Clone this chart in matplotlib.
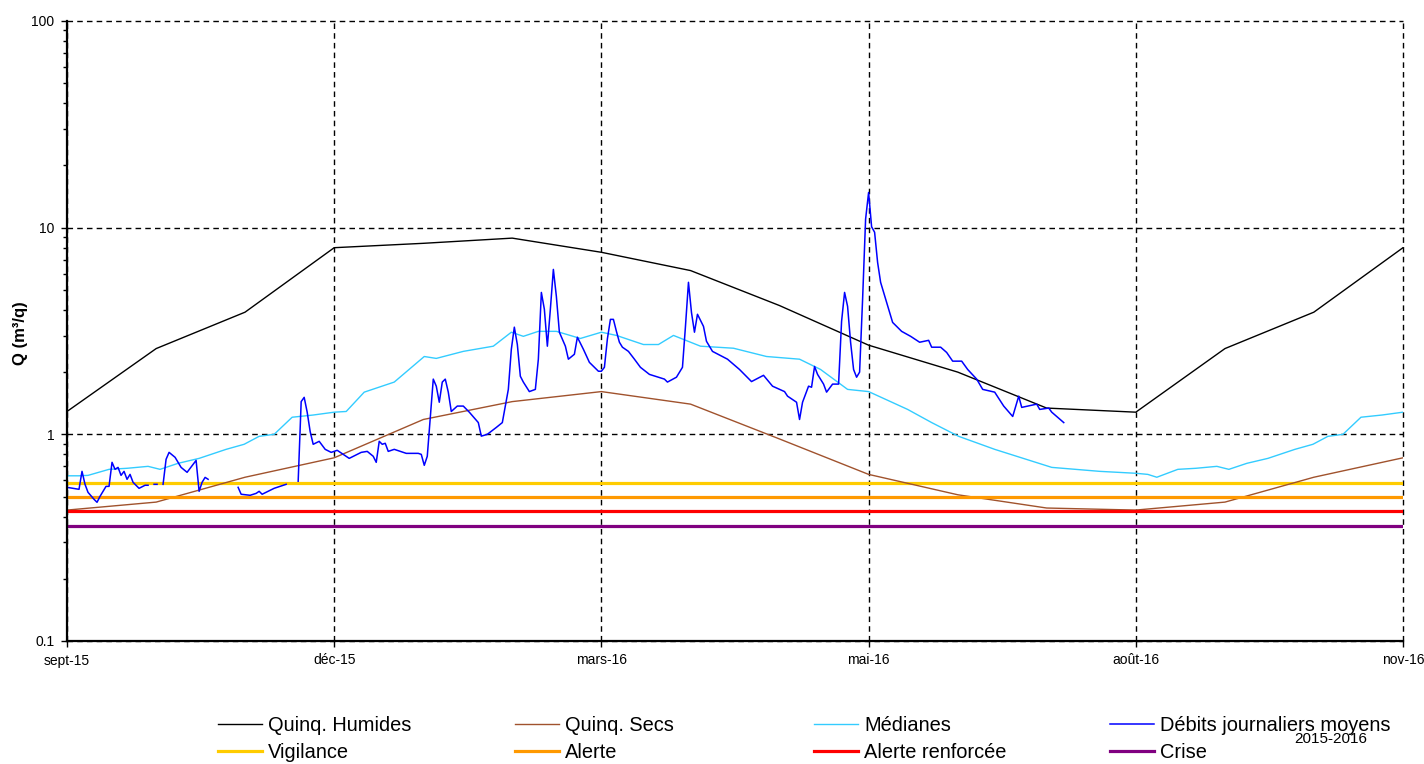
import numpy as np
import matplotlib.pyplot as plt
from matplotlib.ticker import FixedLocator, LogLocator, NullFormatter

plt.rcParams['font.family'] = ['Liberation Sans', 'DejaVu Sans']

# x axis: days since start of the chart (sept-15), 445 days shown
tick_days = [0, 89, 178, 267, 356, 445]
tick_labels = ["sept-15", "déc-15", "mars-16", "mai-16", "août-16", "nov-16"]

# monthly curves (one knot per month)
month_days = [0, 29.7, 59.3, 89, 118.7, 148.3, 178, 207.7, 237.3, 267,
              296.7, 326.3, 356, 385.7, 415.3, 445]
quinq_humides = [1.29, 2.6, 3.9, 8.0, 8.4, 8.9, 7.6, 6.2, 4.2, 2.7,
                 2.0, 1.34, 1.28, 2.6, 3.9, 8.0]
quinq_secs = [0.43, 0.47, 0.62, 0.77, 1.18, 1.44, 1.61, 1.40, 0.95, 0.64,
              0.51, 0.44, 0.43, 0.47, 0.62, 0.77]

med_days = [0, 4, 7, 14, 20, 27, 31, 37, 44, 53, 59, 64, 69, 75, 82, 89,
            93, 99, 109, 119, 123, 132, 142, 148, 152, 157, 163, 171, 178,
            183, 192, 197, 202, 211, 222, 233, 244, 251, 260, 267, 280, 288,
            297, 309, 328, 344, 356, 360, 363, 370, 376, 383, 387, 393, 400,
            409, 415, 420, 425, 431, 438, 445]
medianes = [0.63, 0.63, 0.633, 0.677, 0.685, 0.70, 0.677, 0.724, 0.765,
            0.846, 0.895, 0.978, 1.0, 1.21, 1.24, 1.28, 1.29, 1.60, 1.79,
            2.38, 2.33, 2.52, 2.67, 3.12, 2.98, 3.15, 3.15, 2.91, 3.12, 3.01,
            2.72, 2.72, 3.01, 2.67, 2.61, 2.38, 2.31, 2.06, 1.65, 1.61, 1.32,
            1.14, 0.978, 0.846, 0.692, 0.662, 0.648, 0.64, 0.62, 0.677, 0.685,
            0.70, 0.677, 0.724, 0.765, 0.846, 0.895, 0.978, 1.0, 1.21, 1.24,
            1.28]

# daily mean flows (nan = missing data)
deb_days = [0, 2, 4, 5, 6, 7, 9, 10, 11, 13, 14, 15, 16, 17, 18, 19, 20, 21,
            22, 24, 26, 27, 28, 29, 30, 31, 32, 33, 34, 36, 38, 40, 42, 43,
            44, 45, 46, 47, 48, 57, 58, 61, 63, 64, 65, 69, 71, 73, 74, 77,
            78, 79, 80, 81, 82, 84, 86, 88, 90, 92, 94, 98, 100, 102, 103,
            104, 105, 106, 107, 109, 113, 117, 118, 119, 120, 122, 123, 124,
            125, 126, 127, 128, 130, 132, 134, 137, 138, 140, 143, 145, 147,
            148, 149, 150, 151, 152, 154, 156, 157, 158, 159, 160, 161, 162,
            163, 164, 166, 167, 169, 170, 172, 174, 177, 178, 179, 180, 181,
            182, 183, 184, 185, 187, 189, 191, 194, 199, 200, 203, 205, 206,
            207, 208, 209, 210, 212, 213, 215, 220, 224, 228, 232, 235, 239,
            240, 243, 244, 245, 247, 248, 249, 250, 252, 253, 255, 257, 258,
            259, 260, 261, 262, 263, 264, 265, 266, 267, 268, 269, 270, 271,
            273, 275, 278, 281, 284, 287, 288, 291, 293, 295, 298, 300, 303,
            305, 309, 312, 315, 317, 318, 320, 323, 324, 327, 328, 332]
debits = [0.554, 0.548, 0.542, 0.662, 0.573, 0.524, 0.485, 0.469, 0.501,
          0.56, 0.56, 0.732, 0.677, 0.692, 0.633, 0.662, 0.606, 0.64, 0.586,
          0.548, 0.567, 0.567, np.nan, 0.573, 0.573, np.nan, 0.573, 0.757,
          0.818, 0.774, 0.692, 0.655, 0.716, 0.748, 0.53, 0.586, 0.619, 0.606,
          np.nan, 0.554, 0.513, 0.507, 0.518, 0.53, 0.513, 0.548, 0.56, 0.573,
          np.nan, 0.593, 1.44, 1.51, 1.28, 1.03, 0.895, 0.925, 0.846, 0.818,
          0.837, 0.80, 0.765, 0.818, 0.827, 0.783, 0.732, 0.925, 0.895, 0.905,
          0.827, 0.846, 0.809, 0.809, 0.80, 0.708, 0.783, 1.85, 1.71, 1.43,
          1.79, 1.85, 1.60, 1.29, 1.37, 1.37, 1.28, 1.14, 0.98, 1.0, 1.08,
          1.14, 1.65, 2.58, 3.30, 2.72, 1.91, 1.79, 1.61, 1.65, 2.31, 4.86,
          4.03, 2.67, 4.03, 6.28, 4.65, 3.12, 2.67, 2.31, 2.44, 2.95, 2.58,
          2.23, 2.02, 2.02, 2.11, 2.9, 3.6, 3.6, 3.15, 2.79, 2.64, 2.52, 2.31,
          2.11, 1.95, 1.85, 1.79, 1.89, 2.11, 3.33, 5.44, 3.89, 3.12, 3.81,
          3.33, 2.82, 2.52, 2.31, 2.06, 1.80, 1.93, 1.71, 1.61, 1.53, 1.43,
          1.18, 1.43, 1.71, 1.69, 2.13, 1.95, 1.75, 1.60, 1.75, 1.75, 3.52,
          4.86, 4.16, 2.79, 2.06, 1.89, 2.0, 4.5, 11.0, 14.8, 10.1, 9.5, 6.79,
          5.44, 4.35, 3.48, 3.15, 2.98, 2.79, 2.85, 2.64, 2.64, 2.49, 2.26,
          2.26, 2.06, 1.85, 1.65, 1.60, 1.37, 1.22, 1.53, 1.35, 1.37, 1.40,
          1.32, 1.34, 1.28, 1.14]

# thresholds
vigilance = 0.58
alerte = 0.50
alerte_renforcee = 0.425
crise = 0.36

fig = plt.figure(figsize=(14.24, 7.64), dpi=100)
ax = fig.add_axes([67/1424, 1-641/764, (1403-67)/1424, (641-21)/764])

span = [tick_days[0], tick_days[-1]]
ax.plot(month_days, quinq_humides, color='black', lw=1.0, label='Quinq. Humides')
ax.plot(span, [vigilance]*2, color='#FFCC00', lw=2.3, label='Vigilance')
ax.plot(month_days, quinq_secs, color='#A0522D', lw=1.0, label='Quinq. Secs')
ax.plot(span, [alerte]*2, color='#FF9900', lw=2.3, label='Alerte')
ax.plot(med_days, medianes, color='#33CCFF', lw=1.0, label='Médianes')
ax.plot(span, [alerte_renforcee]*2, color='#FF0000', lw=2.3, label='Alerte renforcée')
ax.plot(deb_days, debits, color='#0000FF', lw=1.1, label='Débits journaliers moyens')
ax.plot(span, [crise]*2, color='#800080', lw=2.3, label='Crise')

ax.set_yscale('log')
ax.set_ylim(0.1, 100)
ax.set_xlim(span)

ax.yaxis.set_major_locator(FixedLocator([0.1, 1, 10, 100]))
ax.set_yticklabels(["0.1", "1", "10", "100"])
ax.yaxis.set_minor_locator(LogLocator(base=10, subs=np.arange(2, 10)))
ax.yaxis.set_minor_formatter(NullFormatter())
ax.set_xticks(tick_days)
ax.set_xticklabels(tick_labels)
ax.tick_params(axis='both', which='major', direction='out', length=4,
               width=1, labelsize=10, pad=5)
ax.tick_params(axis='y', which='minor', direction='out', length=3, width=1)

ax.grid(True, which='major', color='black', linestyle=(0, (4, 3)), lw=1.0)
for line in ax.get_xgridlines() + ax.get_ygridlines():
    line.set_clip_on(False)
for side in ['top', 'right']:
    ax.spines[side].set_visible(False)
for side in ['left', 'bottom']:
    ax.spines[side].set_linewidth(1.6)

fig.text(20/1424, 1-333/764, "Q (m³/q)", rotation=90, ha='center',
         va='center', fontsize=12, fontweight='bold')

# legend: four equally spaced columns, two rows
handles, labels = ax.get_legend_handles_labels()
col_x = [218, 515, 814, 1110]
for i, x0 in enumerate(col_x):
    leg = fig.legend(handles[2*i:2*i+2], labels[2*i:2*i+2], loc='upper left',
                     bbox_to_anchor=(x0/1424, 1-716/764), frameon=False,
                     fontsize=14.4, handlelength=2.2, handletextpad=0.3,
                     labelspacing=0.42, borderpad=0, borderaxespad=0)
fig.text(1331/1424, 1-739/764, "2015-2016", ha='center', va='center',
         fontsize=11)

fig.savefig("out.png", dpi=100)
